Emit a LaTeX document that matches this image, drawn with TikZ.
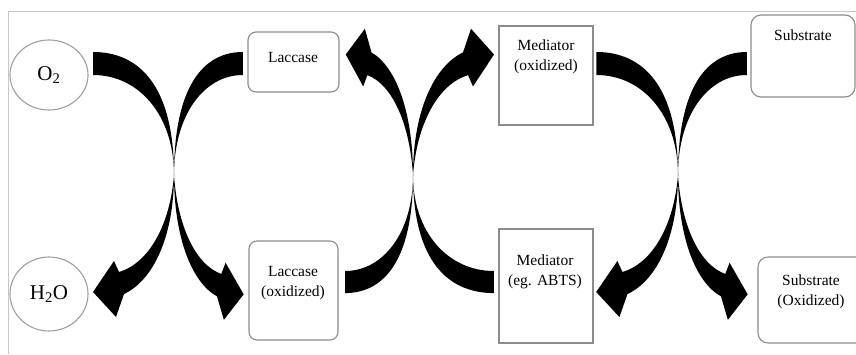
\documentclass[tikz,border=0pt]{standalone}
\usepackage{fontspec}
\setmainfont{Liberation Serif}
\usetikzlibrary{shapes.geometric}
\tikzset{
  boxframe/.style={draw=gray!90, line width=1.1pt, fill=white, inner sep=0pt},
  rbox/.style={boxframe, rounded corners=8pt},
  sbox/.style={boxframe},
  oval/.style={draw=gray!75, line width=1.1pt, ellipse, inner sep=0pt},
  lbl/.style={align=center, font=\fontsize{15.5}{20}\selectfont, inner sep=0pt},
  chem/.style={font=\fontsize{21}{24}\selectfont},
  band/.style={fill=black},
}
\newcommand{\tailpath}{\fill[band] (-80,-123) .. controls (-35,-123) and (0,-90) .. (0,0) .. controls (0,-60) and (-35,-100) .. (-80,-100) -- cycle;}
\newcommand{\headpath}{\fill[band] (0,0) .. controls (0,60) and (-20,105) .. (-50,119) -- (-58,142) -- (-81,117) -- (-60,86) -- (-55,97) .. controls (-25,88) and (-4,50) .. (0,0) -- cycle;}
\newcommand{\tailat}[4]{\begin{scope}[shift={(#1,#2)},xscale=#3,yscale=#4]\tailpath\end{scope}}
\newcommand{\headat}[4]{\begin{scope}[shift={(#1,#2)},xscale=#3,yscale=#4]\headpath\end{scope}}
\begin{document}
\begin{tikzpicture}[x=1pt,y=-1pt]
\clip (0,0) rectangle (856,354);
\fill[white] (0,0) rectangle (856,354);
\draw[gray!45, line width=1pt] (8,354) -- (8,11) -- (856,11);

% curved arrows: left X (centre 174,175)
\tailat{174}{175}{1.01}{1}      % O2 ->
\headat{174}{175}{1.0}{1}       % -> H2O
\tailat{174}{175}{-0.86}{1}     % Laccase ->
\headat{174}{175}{-0.86}{1.02}  % -> Laccase (oxidized)
% middle X (centre 413,175)
\tailat{413}{175}{0.85}{-0.96}  % Laccase (oxidized) ->
\headat{413}{175}{0.83}{-1.03}  % -> Laccase
\tailat{413}{175}{-1.01}{-0.96} % Mediator (ABTS) ->
\headat{413}{175}{-1.0}{-1.03}  % -> Mediator (oxidized)
% right X (centre 678,175)
\tailat{678}{175}{1.02}{1}      % Mediator (oxidized) ->
\headat{678}{175}{1.01}{1}      % -> Mediator (ABTS)
\tailat{678}{175}{-0.86}{1}     % Substrate ->
\headat{678}{175}{-0.86}{1.02}  % -> Substrate (Oxidized)

% molecules
\node[oval, minimum width=78, minimum height=70, chem] (o2) at (49,75) {O\textsubscript{2}};
\node[oval, minimum width=78, minimum height=74, chem] (h2o) at (49,294) {H\textsubscript{2}O};

% boxes
\node[rbox, minimum width=91, minimum height=60] (lac) at (293.5,62) {};
\node[lbl] (lact) at (293,57) {Laccase};
\node[rbox, minimum width=89, minimum height=99] (lacox) at (293.5,290.5) {};
\node[lbl] (lacoxt) at (293,283) {Laccase\\(oxidized)};
\node[sbox, minimum width=94, minimum height=99] (medox) at (546,75.5) {};
\node[lbl] (medoxt) at (546,57) {Mediator\\(oxidized)};
\node[sbox, minimum width=94, minimum height=114] (med) at (546,286) {};
\node[lbl] (medt) at (545,272) {Mediator\\(eg. ABTS)};
\node[rbox, rounded corners=10pt, minimum width=104, minimum height=82] (sub) at (803,56) {};
\node[lbl] (subt) at (803,35) {Substrate};
\node[rbox, rounded corners=10pt, minimum width=108, minimum height=86] (subox) at (812,300) {};
\node[lbl] (suboxt) at (811,292) {Substrate\\(Oxidized)};
\end{tikzpicture}
\end{document}
